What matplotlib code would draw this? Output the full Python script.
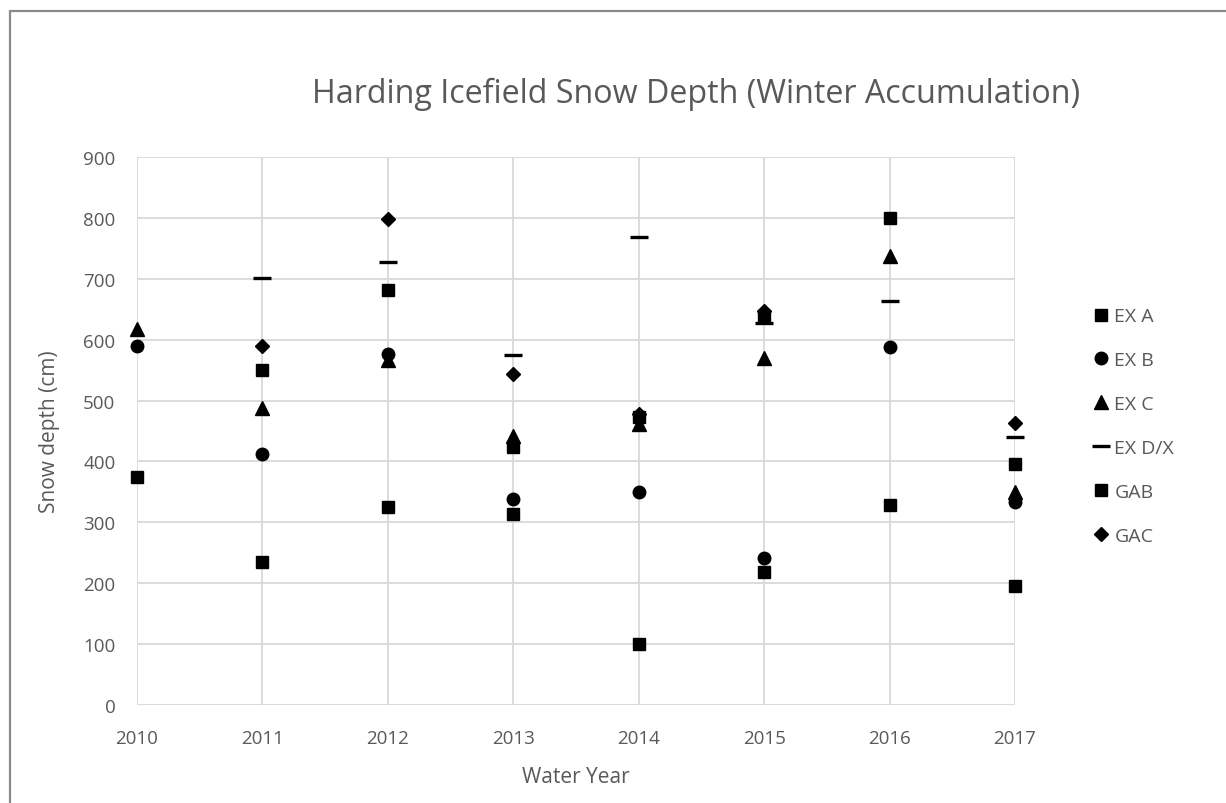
import numpy as np
import matplotlib
matplotlib.use("Agg")
import matplotlib.pyplot as plt
from matplotlib.patches import Rectangle

plt.rcParams['font.family'] = ['Open Sans', 'DejaVu Sans']

years = [2010, 2011, 2012, 2013, 2014, 2015, 2016, 2017]
nan = np.nan

ex_a = [375, 235, 325, 313, 100, 219, 329, 196]
ex_b = [590, 412, 577, 339, 350, 242, 588, 333]
ex_c = [617, 488, 566, 441, 461, 570, 738, 349]
ex_dx = [nan, 701, 727, 574, 768, 628, 663, 440]
gab = [nan, 550, 682, 423, 473, 639, 799, 395]
gac = [nan, 589, 798, 543, 478, 647, nan, 463]

series = [
    ("EX A", ex_a, "s", 9.0),
    ("EX B", ex_b, "o", 9.0),
    ("EX C", ex_c, "^", 9.5),
    ("EX D/X", ex_dx, "_", 13.5),
    ("GAB", gab, "s", 9.0),
    ("GAC", gac, "D", 6.8),
]

GREY = "#595959"
W, H = 1226, 804
fig = plt.figure(figsize=(W / 100, H / 100), dpi=100)
fig.patch.set_facecolor("white")

# outer chart frame
fig.add_artist(Rectangle((10 / W, -0.05), 1.2, 1 - 12 / H + 0.05,
                         transform=fig.transFigure, fill=False,
                         edgecolor="#8a8a8a", linewidth=1.6))

ax = fig.add_axes([137 / W, 1 - 706 / H, (1015 - 137) / W, (706 - 158) / H])

for name, vals, mk, ms in series:
    kw = dict(linestyle="none", marker=mk, markersize=ms, color="black",
              label=name, clip_on=False)
    if mk == "_":
        kw["markeredgewidth"] = 2.4
    ax.plot(years, np.array(vals, dtype=float), **kw)

ax.set_xlim(2010, 2017)
ax.set_ylim(0, 900)
ax.set_xticks(years)
ax.set_yticks(range(0, 901, 100))
ax.grid(True, color="#d9d9d9", linewidth=1.3)
ax.set_axisbelow(True)
for s in ax.spines.values():
    s.set_visible(False)
ax.tick_params(length=0, labelsize=13.5, colors=GREY)
ax.tick_params(axis="x", pad=17)
ax.tick_params(axis="y", pad=15.5)

fig.text(576 / W, 1 - 783 / H, "Water Year", ha="center", va="baseline",
         fontsize=15, color=GREY)
fig.text(50 / W, 1 - 432 / H, "Snow depth (cm)", ha="center", va="center",
         rotation=90, fontsize=15, color=GREY)

fig.text(696 / W, 1 - 103 / H, "Harding Icefield Snow Depth (Winter Accumulation)",
         ha="center", va="baseline", fontsize=23.2, color=GREY)

handles, labels = ax.get_legend_handles_labels()
leg = fig.legend(handles, labels, loc="center left",
                 bbox_to_anchor=(1093 / W, 1 - 427 / H), frameon=False,
                 fontsize=14, labelcolor=GREY, labelspacing=1.33,
                 handlelength=0.8, handletextpad=0.3, markerscale=1.0,
                 borderpad=0, borderaxespad=0)

fig.savefig("out.png", dpi=100, facecolor="white")
